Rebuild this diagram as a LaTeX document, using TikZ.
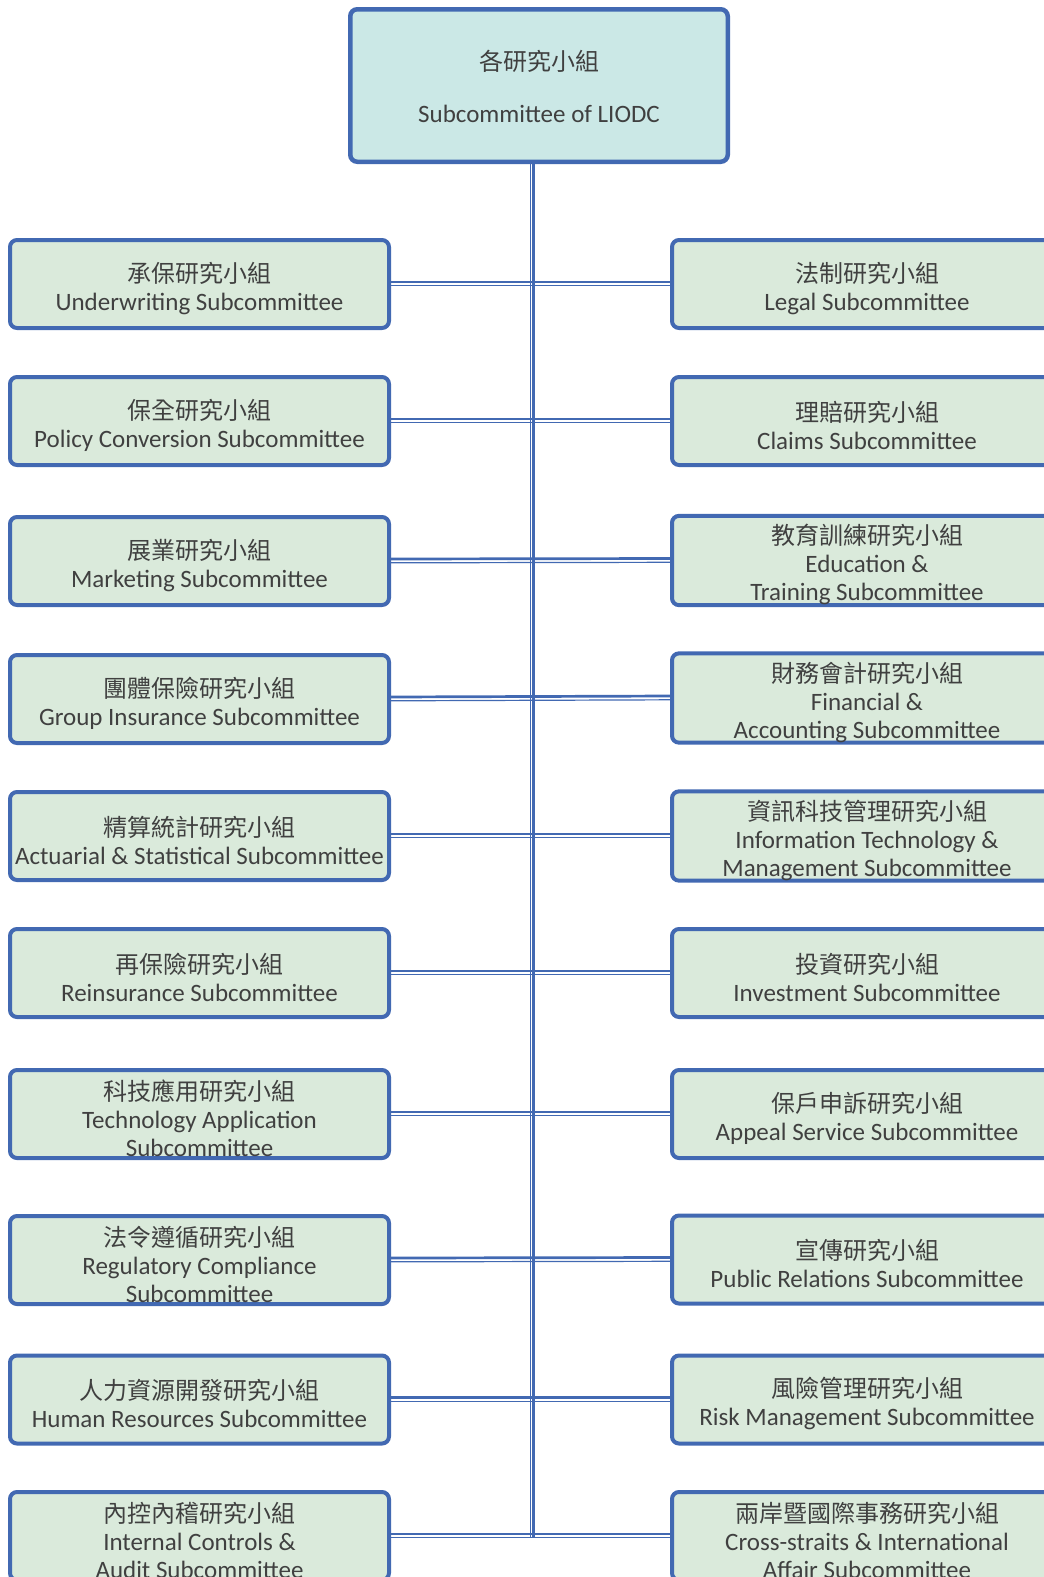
\documentclass[tikz,border=0pt]{standalone}
\usepackage{fontspec}
\setmainfont{Carlito}
\newfontfamily\cjk{Noto Sans CJK TC}
\newcommand\zh[1]{{\cjk\fontsize{24}{28}\selectfont\rule{0pt}{29pt}#1}}
\newcommand\zhtop[1]{{\cjk\fontsize{24}{28}\selectfont\rule{0pt}{23pt}#1}}
\definecolor{bdr}{RGB}{66,105,178}
\definecolor{boxfill}{RGB}{218,234,219}
\definecolor{topfill}{RGB}{203,232,230}
\definecolor{txt}{RGB}{64,64,64}
\tikzset{
  sub/.style={draw=bdr, line width=4pt, rounded corners=7pt, fill=boxfill,
    minimum width=379pt, minimum height=88pt, inner sep=0pt, align=center,
    text=txt, font=\fontsize{25}{28}\selectfont},
  rsub/.style={sub, minimum width=390pt},
  topbox/.style={sub, fill=topfill, line width=4.5pt, minimum width=377.5pt,
    minimum height=152.5pt},
  thickl/.style={draw=bdr, line width=2.7pt},
  thinl/.style={draw=bdr, line width=1.2pt}
}
\begin{document}
\begin{tikzpicture}[x=1pt,y=-1pt]
\useasboundingbox (0,0) rectangle (1044,1577);
\clip (0,0) rectangle (1044,1577);
\node[topbox] (top) at (539,85.5) {\zhtop{各研究小組}\\[24pt]Subcommittee of LIODC};
% left column
\node[sub] (L1) at (199.5,284) {\zh{承保研究小組}\\Underwriting Subcommittee};
\node[sub] (L2) at (199.5,421) {\zh{保全研究小組}\\Policy Conversion Subcommittee};
\node[sub] (L3) at (199.5,561) {\zh{展業研究小組}\\Marketing Subcommittee};
\node[sub] (L4) at (199.5,699) {\zh{團體保險研究小組}\\Group Insurance Subcommittee};
\node[sub] (L5) at (199.5,836) {\zh{精算統計研究小組}\\Actuarial \& Statistical Subcommittee};
\node[sub] (L6) at (199.5,973) {\zh{再保險研究小組}\\Reinsurance Subcommittee};
\node[sub] (L7) at (199.5,1114) {\zh{科技應用研究小組}\\Technology Application\\Subcommittee};
\node[sub] (L8) at (199.5,1260) {\zh{法令遵循研究小組}\\Regulatory Compliance\\Subcommittee};
\node[sub] (L9) at (199.5,1399.5) {\zh{人力資源開發研究小組}\\Human Resources Subcommittee};
\node[sub] (L10) at (199.5,1536) {\zh{內控內稽研究小組}\\Internal Controls \&\\Audit Subcommittee};
% right column
\node[rsub] (R1) at (867,284) {\zh{法制研究小組}\\Legal Subcommittee};
\node[rsub] (R2) at (867,421) {\zh{理賠研究小組}\\Claims Subcommittee};
\node[rsub] (R3) at (867,560.5) {\zh{教育訓練研究小組}\\Education \&\\Training Subcommittee};
\node[rsub] (R4) at (867,698) {\zh{財務會計研究小組}\\Financial \&\\Accounting Subcommittee};
\node[rsub] (R5) at (867,836) {\zh{資訊科技管理研究小組}\\Information Technology \&\\Management Subcommittee};
\node[rsub] (R6) at (867,973) {\zh{投資研究小組}\\Investment Subcommittee};
\node[rsub] (R7) at (867,1114) {\zh{保戶申訴研究小組}\\Appeal Service Subcommittee};
\node[rsub] (R8) at (867,1259.5) {\zh{宣傳研究小組}\\Public Relations Subcommittee};
\node[rsub] (R9) at (867,1399.5) {\zh{風險管理研究小組}\\Risk Management Subcommittee};
\node[rsub] (R10) at (867,1536) {\zh{兩岸暨國際事務研究小組}\\Cross-straits \& International\\Affair Subcommittee};
% vertical trunk
\coordinate (vend) at (532,1537);
\draw[thinl] ([xshift=-1.5pt]top.south -| vend) -- ([xshift=-1.5pt]vend);
\draw[thickl] ([xshift=1.8pt]top.south -| vend) -- ([xshift=1.8pt]vend);
% horizontal connectors
\foreach \i in {1,...,10}{
  \draw[thickl] ([yshift=2pt]L\i.east) -- ([yshift=2pt]R\i.west);
  \draw[thinl] ([yshift=-1.8pt]L\i.east) -- ([yshift=-1.8pt]R\i.west);
}
\end{tikzpicture}
\end{document}
